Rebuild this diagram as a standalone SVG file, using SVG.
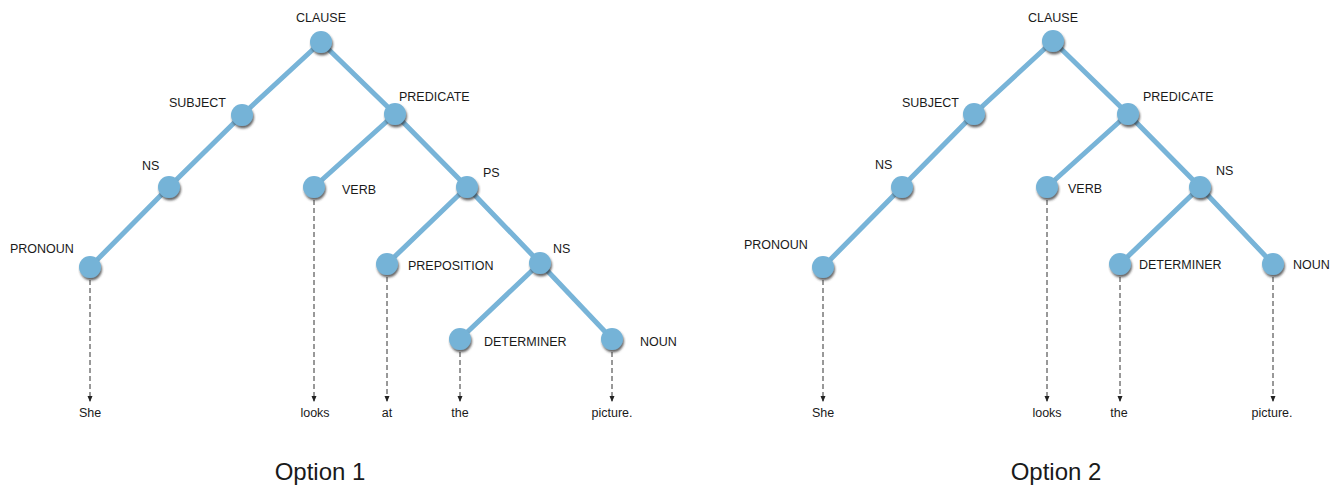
<svg xmlns="http://www.w3.org/2000/svg" width="1342" height="486" viewBox="0 0 1342 486">
<style>
text{font-family:"Liberation Sans",Arial,sans-serif;fill:#1a1a1a}
.lbl{font-size:12.5px}
.word{font-size:12.5px;text-anchor:middle}
.mid{text-anchor:middle}
.title{font-size:24px;text-anchor:middle}
.edge{stroke:#78b4d8;stroke-width:5;fill:none;stroke-linecap:round}
.dash{stroke:#333;stroke-width:1;stroke-dasharray:5,3;fill:none}
.node{fill:#75b3d7;filter:url(#sh)}
</style>
<defs>
<filter id="sh" x="-50%" y="-50%" width="200%" height="200%">
<feDropShadow dx="1" dy="2.4" stdDeviation="1" flood-color="#333" flood-opacity="0.75"/>
</filter>
<marker id="arr" viewBox="0 0 6 6" refX="5" refY="3" markerWidth="6" markerHeight="6" markerUnits="userSpaceOnUse" orient="auto">
<path d="M0,0.5 L6,3 L0,5.5 Z" fill="#222"/>
</marker>
</defs>
<g id="connectors">
<g id="edges1">
<line class="edge" x1="321" y1="42" x2="242" y2="115"/>
<line class="edge" x1="321" y1="42" x2="395" y2="114"/>
<line class="edge" x1="242" y1="115" x2="169" y2="187"/>
<line class="edge" x1="169" y1="187" x2="90" y2="267"/>
<line class="edge" x1="395" y1="114" x2="314" y2="187"/>
<line class="edge" x1="395" y1="114" x2="467" y2="187"/>
<line class="edge" x1="467" y1="187" x2="387" y2="264"/>
<line class="edge" x1="467" y1="187" x2="540" y2="263"/>
<line class="edge" x1="540" y1="263" x2="460" y2="339"/>
<line class="edge" x1="540" y1="263" x2="612" y2="339"/>
<line class="dash" x1="90" y1="280" x2="90" y2="401" marker-end="url(#arr)"/>
<line class="dash" x1="314" y1="200" x2="314" y2="401" marker-end="url(#arr)"/>
<line class="dash" x1="387" y1="277" x2="387" y2="401" marker-end="url(#arr)"/>
<line class="dash" x1="460" y1="352" x2="460" y2="401" marker-end="url(#arr)"/>
<line class="dash" x1="612" y1="352" x2="612" y2="401" marker-end="url(#arr)"/>
</g>
<g id="edges2">
<line class="edge" x1="1053" y1="41" x2="974" y2="114"/>
<line class="edge" x1="1053" y1="41" x2="1128" y2="114"/>
<line class="edge" x1="974" y1="114" x2="902" y2="187"/>
<line class="edge" x1="902" y1="187" x2="823" y2="267"/>
<line class="edge" x1="1128" y1="114" x2="1047" y2="187"/>
<line class="edge" x1="1128" y1="114" x2="1200" y2="187"/>
<line class="edge" x1="1200" y1="187" x2="1120" y2="264"/>
<line class="edge" x1="1200" y1="187" x2="1273" y2="264"/>
<line class="dash" x1="823" y1="280" x2="823" y2="401" marker-end="url(#arr)"/>
<line class="dash" x1="1047" y1="200" x2="1047" y2="401" marker-end="url(#arr)"/>
<line class="dash" x1="1120" y1="277" x2="1120" y2="401" marker-end="url(#arr)"/>
<line class="dash" x1="1273" y1="277" x2="1273" y2="401" marker-end="url(#arr)"/>
</g>
</g>
<g id="option1">
<g id="n1-clause"><circle class="node" cx="321" cy="42" r="11"/><text class="lbl mid" x="321" y="22">CLAUSE</text></g>
<g id="n1-subject"><circle class="node" cx="242" cy="115" r="11"/><text class="lbl" x="169" y="107">SUBJECT</text></g>
<g id="n1-predicate"><circle class="node" cx="395" cy="114" r="11"/><text class="lbl" x="399" y="101">PREDICATE</text></g>
<g id="n1-ns"><circle class="node" cx="169" cy="187" r="11"/><text class="lbl" x="142" y="170">NS</text></g>
<g id="n1-verb"><circle class="node" cx="314" cy="187" r="11"/><text class="lbl" x="342" y="194">VERB</text></g>
<g id="n1-ps"><circle class="node" cx="467" cy="187" r="11"/><text class="lbl" x="483" y="177">PS</text></g>
<g id="n1-pronoun"><circle class="node" cx="90" cy="267" r="11"/><text class="lbl" x="10" y="253">PRONOUN</text></g>
<g id="n1-preposition"><circle class="node" cx="387" cy="264" r="11"/><text class="lbl" x="408" y="270">PREPOSITION</text></g>
<g id="n1-ns2"><circle class="node" cx="540" cy="263" r="11"/><text class="lbl" x="553" y="253">NS</text></g>
<g id="n1-determiner"><circle class="node" cx="460" cy="339" r="11"/><text class="lbl" x="484" y="346">DETERMINER</text></g>
<g id="n1-noun"><circle class="node" cx="612" cy="339" r="11"/><text class="lbl" x="640" y="346">NOUN</text></g>
<g id="w1">
<text class="word" x="90" y="417">She</text>
<text class="word" x="315" y="417">looks</text>
<text class="word" x="387" y="417">at</text>
<text class="word" x="460" y="417">the</text>
<text class="word" x="612" y="417">picture.</text>
</g>
<text class="title" x="320" y="480">Option 1</text>
</g>
<g id="option2">
<g id="n2-clause"><circle class="node" cx="1053" cy="41" r="11"/><text class="lbl mid" x="1053" y="22">CLAUSE</text></g>
<g id="n2-subject"><circle class="node" cx="974" cy="114" r="11"/><text class="lbl" x="902" y="107">SUBJECT</text></g>
<g id="n2-predicate"><circle class="node" cx="1128" cy="114" r="11"/><text class="lbl" x="1143" y="101">PREDICATE</text></g>
<g id="n2-ns"><circle class="node" cx="902" cy="187" r="11"/><text class="lbl" x="875" y="169">NS</text></g>
<g id="n2-verb"><circle class="node" cx="1047" cy="187" r="11"/><text class="lbl" x="1068" y="193">VERB</text></g>
<g id="n2-ns2"><circle class="node" cx="1200" cy="187" r="11"/><text class="lbl" x="1216" y="175">NS</text></g>
<g id="n2-pronoun"><circle class="node" cx="823" cy="267" r="11"/><text class="lbl" x="744" y="249">PRONOUN</text></g>
<g id="n2-determiner"><circle class="node" cx="1120" cy="264" r="11"/><text class="lbl" x="1139" y="269">DETERMINER</text></g>
<g id="n2-noun"><circle class="node" cx="1273" cy="264" r="11"/><text class="lbl" x="1293" y="269">NOUN</text></g>
<g id="w2">
<text class="word" x="823" y="417">She</text>
<text class="word" x="1047" y="417">looks</text>
<text class="word" x="1119" y="417">the</text>
<text class="word" x="1272" y="417">picture.</text>
</g>
<text class="title" x="1056" y="480">Option 2</text>
</g>
</svg>
